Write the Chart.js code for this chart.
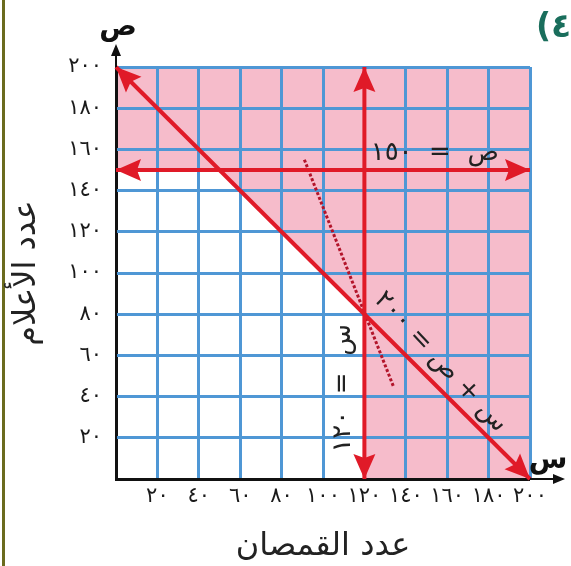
<!DOCTYPE html>
<html lang="ar">
<head>
<meta charset="utf-8">
<title>عدد القمصان وعدد الأعلام</title>
<script src="https://cdn.jsdelivr.net/npm/chart.js@4.4.1/dist/chart.umd.min.js"></script>
<style>
  html, body { margin: 0; padding: 0; background: #fff; }
  #wrap { width: 571px; height: 566px; position: relative; }
</style>
</head>
<body>
<div id="wrap"><canvas id="lpChart"></canvas></div>
<script>
// grid values shared by both axes
const axisTicks = [0, 20, 40, 60, 80, 100, 120, 140, 160, 180, 200];

// س + ص = 200
const sumLineX = [0, 200];
const sumLineY = [200, 0];
// ص = 150
const flagLimitX = [0, 200];
const flagLimitY = [150, 150];
// س = 120
const shirtLimitX = [120, 120];
const shirtLimitY = [200, 0];
// dotted line through the corner (120, 80)
const dottedX = [91, 134];
const dottedY = [155, 45];
// corners of the unshaded region
const regionX = [0, 0, 50, 120, 120];
const regionY = [0, 150, 150, 80, 0];

const RED = "#e01a28";
const PINK = "#f6bccb";
const BLUE = "#4f97d5";
const FONT = "'DejaVu Sans', sans-serif";

const toArabic = n => String(n).replace(/\d/g, d => "٠١٢٣٤٥٦٧٨٩"[d]);
const pairs = (xs, ys) => xs.map((x, i) => ({ x: x, y: ys[i] }));

function arrowHead(ctx, from, to, color) {
  const ang = Math.atan2(to.y - from.y, to.x - from.x);
  ctx.save();
  ctx.translate(to.x, to.y);
  ctx.rotate(ang);
  ctx.beginPath();
  ctx.moveTo(0, 0);
  ctx.lineTo(-25, -11);
  ctx.lineTo(-21, 0);
  ctx.lineTo(-25, 11);
  ctx.closePath();
  ctx.fillStyle = color;
  ctx.fill();
  ctx.restore();
}

// pink background with the white region cut out, drawn under the grid
const shading = {
  id: "shading",
  beforeDraw(chart) {
    const { ctx, chartArea: a, scales: { x, y } } = chart;
    ctx.save();
    ctx.fillStyle = "#fff";
    ctx.fillRect(0, 0, chart.width, chart.height);
    ctx.fillStyle = PINK;
    ctx.fillRect(a.left, a.top, a.right - a.left, a.bottom - a.top);
    ctx.fillStyle = "#fff";
    ctx.beginPath();
    regionX.forEach((v, i) => {
      const px = x.getPixelForValue(v), py = y.getPixelForValue(regionY[i]);
      if (i) ctx.lineTo(px, py); else ctx.moveTo(px, py);
    });
    ctx.closePath();
    ctx.fill();
    // page rule on the left
    ctx.fillStyle = "#6b6b1e";
    ctx.fillRect(2, 0, 3, chart.height);
    ctx.restore();
  }
};

// arrow heads on both ends of the constraint lines
const arrows = {
  id: "arrows",
  afterDatasetsDraw(chart) {
    const ctx = chart.ctx;
    chart.data.datasets.forEach((ds, i) => {
      if (!ds.arrows) return;
      const pts = chart.getDatasetMeta(i).data;
      const a = pts[0], b = pts[pts.length - 1];
      arrowHead(ctx, a, b, ds.borderColor);
      arrowHead(ctx, b, a, ds.borderColor);
    });
  }
};

// extended axes with their letters, line equations, exercise number
const notes = {
  id: "notes",
  afterDraw(chart) {
    const { ctx, chartArea: a, scales: { x, y } } = chart;
    ctx.save();
    ctx.strokeStyle = "#111";
    ctx.fillStyle = "#111";
    ctx.lineWidth = 2;
    ctx.beginPath();
    ctx.moveTo(a.left, a.top);
    ctx.lineTo(a.left, 50);
    ctx.moveTo(a.right, a.bottom);
    ctx.lineTo(558, a.bottom);
    ctx.stroke();
    ctx.beginPath();
    ctx.moveTo(a.left, 44);
    ctx.lineTo(a.left - 5, 56);
    ctx.lineTo(a.left + 5, 56);
    ctx.closePath();
    ctx.moveTo(565, a.bottom);
    ctx.lineTo(553, a.bottom - 5);
    ctx.lineTo(553, a.bottom + 5);
    ctx.closePath();
    ctx.fill();

    ctx.textAlign = "center";
    ctx.textBaseline = "middle";
    ctx.font = "bold 28px " + FONT;
    ctx.fillText("ص", a.left + 2, 28);
    ctx.fillText("س", 548, a.bottom - 18);

    ctx.fillStyle = "#222";
    ctx.font = "26px " + FONT;
    ctx.direction = "rtl";
    ctx.fillText("ص  =  ١٥٠", x.getPixelForValue(154), y.getPixelForValue(150) - 17);

    ctx.save();
    ctx.translate(x.getPixelForValue(120) - 21, y.getPixelForValue(44));
    ctx.rotate(-Math.PI / 2);
    ctx.fillText("س  =  ١٢٠", 0, 0);
    ctx.restore();

    ctx.save();
    ctx.translate(x.getPixelForValue(150) + 14, y.getPixelForValue(50) - 14);
    ctx.rotate(47 * Math.PI / 180);
    ctx.fillText("س + ص = ٢٠٠", 0, 0);
    ctx.restore();

    // exercise number, cut off by the right edge
    ctx.direction = "ltr";
    ctx.textAlign = "left";
    ctx.fillStyle = "#1a6e5c";
    ctx.font = "bold 33px " + FONT;
    ctx.fillText("(٤", 536, 28);
    ctx.restore();
  }
};

const lineStyle = { showLine: true, pointRadius: 0, borderWidth: 4, borderColor: RED, clip: false, arrows: true };

const axis = (title) => ({
  type: "linear",
  min: 0,
  max: 200,
  afterBuildTicks: s => { s.ticks = axisTicks.map(v => ({ value: v })); },
  grid: {
    color: c => (c.tick && c.tick.value === 0 ? "#111" : BLUE),
    lineWidth: 3,
    drawTicks: false
  },
  border: { color: "#111", width: 2 },
  ticks: {
    autoSkip: false,
    maxRotation: 0,
    color: "#1a1a1a",
    font: { family: FONT, size: 21 },
    callback: v => (v === 0 ? "" : toArabic(v))
  },
  title: { display: true, text: title, color: "#222", font: { family: FONT, size: 32 } }
});

const xAxis = axis("عدد القمصان");
xAxis.ticks.padding = 5;
xAxis.title.padding = { top: 0, bottom: 0 };
xAxis.afterFit = s => { s.height = 87; };

const yAxis = axis("عدد الأعلام");
yAxis.ticks.padding = 14;
yAxis.title.padding = { top: 7, bottom: 0 };
yAxis.afterFit = s => { s.width = 116; };

new Chart(document.getElementById("lpChart"), {
  type: "scatter",
  data: {
    datasets: [
      Object.assign({ data: pairs(sumLineX, sumLineY) }, lineStyle),
      Object.assign({ data: pairs(flagLimitX, flagLimitY) }, lineStyle),
      Object.assign({ data: pairs(shirtLimitX, shirtLimitY) }, lineStyle),
      {
        data: pairs(dottedX, dottedY),
        showLine: true,
        pointRadius: 0,
        borderWidth: 3,
        borderColor: "#b3142a",
        borderDash: [3, 2],
        clip: false
      }
    ]
  },
  plugins: [shading, arrows, notes],
  options: {
    responsive: true,
    maintainAspectRatio: false,
    animation: false,
    layout: { padding: { left: 0, right: 41, top: 67, bottom: 0 } },
    plugins: { legend: { display: false }, tooltip: { enabled: false } },
    scales: { x: xAxis, y: yAxis }
  }
});
</script>
</body>
</html>
